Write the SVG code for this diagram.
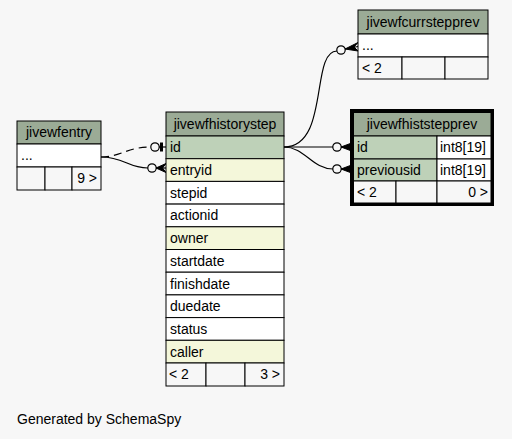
<svg xmlns="http://www.w3.org/2000/svg" width="512" height="439" viewBox="0 0 512 439">
<style>
text{font-family:"Liberation Sans",Arial,Helvetica,sans-serif;font-size:14px;fill:#000}
.h{fill:#9bab96;stroke:#000;stroke-width:1}
.pk{fill:#bed1b8;stroke:#000;stroke-width:1}
.ix{fill:#f4f7da;stroke:#000;stroke-width:1}
.w{fill:#ffffff;stroke:#000;stroke-width:1}
.b{fill:#f7f7f7;stroke:#000;stroke-width:1}
.c{text-anchor:middle}
.r{text-anchor:end}
.ln{fill:none;stroke:#000;stroke-width:1.2}
.od{fill:none;stroke:#000;stroke-width:1.2}
.cr{fill:#000;stroke:#000;stroke-width:1}
</style>
<rect x="0" y="0" width="512" height="439" fill="#f7f7f7"/>

<g id="connectors">
  <!-- jivewfentry -> jivewfhistorystep.id (dashed, tee+odot) -->
  <path class="ln" d="M101,157 C120,157 128,147 150,147" stroke-dasharray="8,5"/>
  <circle class="od" cx="155" cy="147" r="4.2" fill="#f7f7f7"/>
  <rect x="160" y="142.5" width="3" height="9" fill="#000"/>
  <line x1="159" y1="147" x2="166" y2="147" stroke="#000" stroke-width="1.2"/>
  <!-- jivewfentry -> entryid (crow+odot) -->
  <path class="ln" d="M101,157 C124,157 128,168 148,168"/>
  <circle class="od" cx="152" cy="168" r="4.2" fill="#f7f7f7"/>
  <polygon class="cr" points="156,168 166,163.5 162.5,168 166,172.5"/>
  <line x1="156" y1="168" x2="166" y2="168" stroke="#000" stroke-width="1.2"/>
  <!-- historystep.id -> currstepprev -->
  <path class="ln" d="M284,147 C330,147 310,51 337,51"/>
  <circle class="od" cx="341" cy="50" r="4.2" fill="#f7f7f7"/>
  <polygon class="cr" points="345,49 358,42.5 354,47 358,51"/>
  <line x1="345" y1="49" x2="358" y2="46.5" stroke="#000" stroke-width="1.2"/>
  <!-- historystep.id -> histstepprev.id -->
  <path class="ln" d="M284,147 L333,147"/>
  <circle class="od" cx="337" cy="147" r="4.2" fill="#f7f7f7"/>
  <polygon class="cr" points="341,147 353,142.5 349,147 353,151.5"/>
  <line x1="341" y1="147" x2="353" y2="147" stroke="#000" stroke-width="1.2"/>
  <!-- historystep.id -> histstepprev.previousid -->
  <path class="ln" d="M284,147 C305,147 312,169 333,169"/>
  <circle class="od" cx="337" cy="169" r="4.2" fill="#f7f7f7"/>
  <polygon class="cr" points="341,169 353,164.5 349,169 353,173.5"/>
  <line x1="341" y1="169" x2="353" y2="169" stroke="#000" stroke-width="1.2"/>
</g>

<g id="jivewfentry">
  <rect class="h" x="17" y="121" width="84" height="23"/>
  <text class="c" x="59" y="137">jivewfentry</text>
  <rect class="w" x="17" y="144" width="84" height="23"/>
  <text x="21" y="160">...</text>
  <rect class="b" x="17" y="167" width="28" height="23"/>
  <rect class="b" x="45" y="167" width="27" height="23"/>
  <rect class="b" x="72" y="167" width="29" height="23"/>
  <text class="r" x="97" y="183">9 &gt;</text>
</g>

<g id="jivewfhistorystep">
  <rect class="h" x="166" y="112" width="118" height="24"/>
  <text class="c" x="225" y="129">jivewfhistorystep</text>
  <rect class="pk" x="166" y="136" width="118" height="22.7"/>
  <text x="170" y="152">id</text>
  <rect class="ix" x="166" y="158.7" width="118" height="22.7"/>
  <text x="170" y="175">entryid</text>
  <rect class="w" x="166" y="181.4" width="118" height="22.7"/>
  <text x="170" y="197.5">stepid</text>
  <rect class="w" x="166" y="204.1" width="118" height="22.7"/>
  <text x="170" y="220">actionid</text>
  <rect class="ix" x="166" y="226.8" width="118" height="22.7"/>
  <text x="170" y="243">owner</text>
  <rect class="w" x="166" y="249.5" width="118" height="22.7"/>
  <text x="170" y="265.5">startdate</text>
  <rect class="w" x="166" y="272.2" width="118" height="22.7"/>
  <text x="170" y="288.5">finishdate</text>
  <rect class="w" x="166" y="294.9" width="118" height="22.7"/>
  <text x="170" y="311">duedate</text>
  <rect class="w" x="166" y="317.6" width="118" height="22.7"/>
  <text x="170" y="334">status</text>
  <rect class="ix" x="166" y="340.3" width="118" height="22.7"/>
  <text x="170" y="356.5">caller</text>
  <rect class="b" x="166" y="363" width="40" height="23"/>
  <rect class="b" x="206" y="363" width="39" height="23"/>
  <rect class="b" x="245" y="363" width="39" height="23"/>
  <text x="169" y="379">&lt; 2</text>
  <text class="r" x="280" y="379">3 &gt;</text>
</g>

<g id="jivewfcurrstepprev">
  <rect class="h" x="358" y="10" width="130" height="24"/>
  <text class="c" x="423" y="27">jivewfcurrstepprev</text>
  <rect class="w" x="358" y="34" width="130" height="23"/>
  <text x="362" y="50">...</text>
  <rect class="b" x="358" y="57" width="44" height="22"/>
  <rect class="b" x="402" y="57" width="43" height="22"/>
  <rect class="b" x="445" y="57" width="43" height="22"/>
  <text x="362" y="73">&lt; 2</text>
</g>

<g id="jivewfhiststepprev">
  <rect x="351.5" y="110.5" width="141" height="94" fill="#f7f7f7" stroke="#000" stroke-width="3"/>
  <rect class="h" x="353.5" y="112.5" width="137.5" height="23.5"/>
  <text class="c" x="422" y="129">jivewfhiststepprev</text>
  <rect class="pk" x="353.5" y="136" width="83.5" height="23"/>
  <rect class="w" x="437" y="136" width="54" height="23"/>
  <text x="357" y="152">id</text>
  <text x="440" y="152">int8[19]</text>
  <rect class="pk" x="353.5" y="159" width="83.5" height="22"/>
  <rect class="w" x="437" y="159" width="54" height="22"/>
  <text x="357" y="175">previousid</text>
  <text x="440" y="175">int8[19]</text>
  <rect class="b" x="353.5" y="181" width="42.5" height="22"/>
  <rect class="b" x="396" y="181" width="41" height="22"/>
  <rect class="b" x="437" y="181" width="54" height="22"/>
  <text x="357" y="197">&lt; 2</text>
  <text class="r" x="488" y="197">0 &gt;</text>
</g>

<text x="17" y="424">Generated by SchemaSpy</text>
</svg>
